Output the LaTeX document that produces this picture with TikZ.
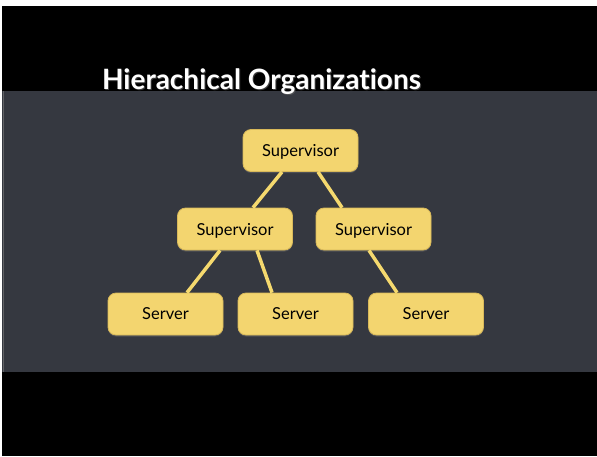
\documentclass[tikz,border=0pt]{standalone}
\usepackage{fontspec}
\setmainfont[Ligatures=NoCommon]{Lato}
\usetikzlibrary{shadows}
\definecolor{band}{HTML}{353840}
\definecolor{boxfill}{HTML}{F3D56F}
\definecolor{boxedge}{HTML}{D9B95A}
\definecolor{linkc}{HTML}{F5D96E}
\begin{document}
\begin{tikzpicture}[x=1pt,y=-1pt,
  orgbox/.style={draw=boxedge, line width=0.8pt, fill=boxfill, rounded corners=8pt,
    minimum width=115pt, minimum height=42pt, inner sep=0pt,
    font=\fontsize{16.5}{19}\selectfont, text=black, text depth=0pt, yshift=-1pt,
    drop shadow={shadow xshift=0pt, shadow yshift=-1.5pt, opacity=0.35}},
  link/.style={draw=linkc, line width=3.5pt},
  titlefont/.style={font=\bfseries\fontsize{28}{32}\selectfont}]
\useasboundingbox (0,0) rectangle (597,456);
\fill[white] (0,0) rectangle (597,456);
\fill[black] (2,6) rectangle (597,456);
\fill[band] (2,91) rectangle (597,372);
\draw[gray!60!band, line width=1pt] (3,91) -- (3,372);
\node[anchor=base west, text=black!60, opacity=0.6, titlefont] at (99.5,90.5) {Hierachical Organizations};
\node (title) [anchor=base west, text=white, titlefont] at (98.5,89) {Hierachical Organizations};
\node[orgbox] (top) at (300.5,149.5) {Supervisor};
\node[orgbox] (ml) at (235,228) {Supervisor};
\node[orgbox] (mr) at (373.5,228) {Supervisor};
\node[orgbox] (s1) at (165.5,313) {Server};
\node[orgbox] (s2) at (295.5,313) {Server};
\node[orgbox] (s3) at (426,313) {Server};
\draw[link] ([xshift=-18.5pt]top.south) -- ([xshift=18pt]ml.north);
\draw[link] ([xshift=17.5pt]top.south) -- ([xshift=-31.5pt]mr.north);
\draw[link] ([xshift=-15pt]ml.south) -- ([xshift=21.5pt]s1.north);
\draw[link] ([xshift=22pt]ml.south) -- ([xshift=-23.5pt]s2.north);
\draw[link] ([xshift=-4.5pt]mr.south) -- ([xshift=-29pt]s3.north);
\end{tikzpicture}
\end{document}
